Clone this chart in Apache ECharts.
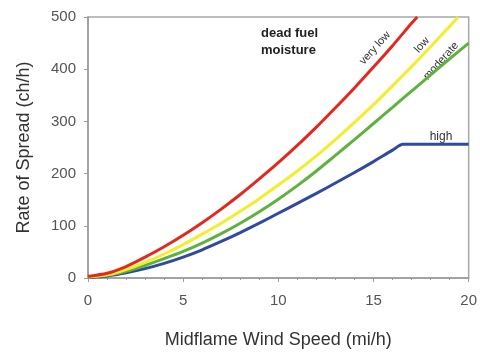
<!DOCTYPE html>
<html><head><meta charset="utf-8">
<script src="https://cdn.jsdelivr.net/npm/echarts@6/dist/echarts.min.js"></script>
<style>html,body{margin:0;padding:0;background:#fff}#c{width:480px;height:354px}</style>
</head><body><div id="c"></div>
<script>
// Data
const xTicks = [0, 5, 10, 15, 20];
const yTicks = [0, 100, 200, 300, 400, 500];

const veryLowX = [0,1,2,3,4,5,6,7,8,9,10,11,12,13,14,15,16,17,17.3];
const veryLowY = [3,9,22,40,60,82,106,132,160,190,221,254,289,326,364,404,445,488,500];

const lowX = [0,1,2,3,4,5,6,7,8,9,10,11,12,13,14,15,16,17,18,19,19.45];
const lowY = [2,6,16,30,46,64,84,105,128,152,178,205,234,265,298,332,368,405,443,482,500];

const moderateX = [0,1,2,3,4,5,6,7,8,9,10,11,12,13,14,15,16,17,18,19,20];
const moderateY = [2,5,13,24,37,51,67,85,105,127,151,177,205,235,265,296,327,358,389,420,450];

const highX = [0,1,2,3,4,5,6,7,8,9,10,11,12,13,14,15,16,16.55,20];
const highY = [1,4,10,18,28,40,54,70,87,105,124,143,162,182,202,223,245,256,256];

const seriesNames = ['very low', 'low', 'moderate', 'high'];
const colors = ['#e4281e', '#f3ee2a', '#5fb23e', '#2f4aa0'];

function pairs(xs, ys) { return xs.map((x, i) => [x, ys[i]]); }

const chart = echarts.init(document.getElementById('c'), null, {renderer: 'canvas'});
const font = 'Liberation Sans, Arial, sans-serif';
const axisGray = '#9a9a9a';

const seriesData = [pairs(veryLowX, veryLowY), pairs(lowX, lowY), pairs(moderateX, moderateY), pairs(highX, highY)];

chart.setOption({
  animation: false,
  grid: {left: 88, right: 10, top: 17, bottom: 71, show: true, borderColor: '#a8a8a8', borderWidth: 1.5, backgroundColor: '#fff'},
  xAxis: {
    type: 'value', min: xTicks[0], max: xTicks[xTicks.length - 1], interval: 5,
    name: 'Midflame Wind Speed (mi/h)', nameLocation: 'middle', nameGap: 53,
    nameTextStyle: {fontFamily: font, fontSize: 18, color: '#333'},
    axisLine: {lineStyle: {color: axisGray, width: 1.5}},
    axisTick: {show: true, length: 4, lineStyle: {color: axisGray}},
    minorTick: {show: true, splitNumber: 5, length: 2, lineStyle: {color: axisGray}},
    splitLine: {show: false},
    axisLabel: {fontFamily: font, fontSize: 15, color: '#555', margin: 15}
  },
  yAxis: {
    type: 'value', min: yTicks[0], max: yTicks[yTicks.length - 1], interval: 100,
    name: 'Rate of Spread (ch/h)', nameLocation: 'middle', nameGap: 55,
    nameTextStyle: {fontFamily: font, fontSize: 18, color: '#333'},
    axisLine: {show: true, lineStyle: {color: axisGray, width: 1.5}},
    axisTick: {show: true, length: 4, lineStyle: {color: axisGray}},
    splitLine: {show: false},
    axisLabel: {fontFamily: font, fontSize: 15, color: '#555', margin: 12}
  },
  series: seriesData.map((d, i) => ({
    name: seriesNames[i], type: 'line', data: d, showSymbol: false,
    smooth: 0.25, clip: true,
    lineStyle: {color: colors[i], width: 3},
    z: 10 - i
  })),
  graphic: [
    {type: 'text', left: 261, top: 25, style: {text: 'dead fuel\nmoisture', font: 'bold 13px ' + font, fill: '#222', lineHeight: 17}},
    {type: 'text', x: 375, y: 48, rotation: 48 * Math.PI / 180, style: {text: 'very low', font: '11px ' + font, fill: '#333', align: 'center', verticalAlign: 'middle'}},
    {type: 'text', x: 422, y: 45, rotation: 48 * Math.PI / 180, style: {text: 'low', font: '11px ' + font, fill: '#333', align: 'center', verticalAlign: 'middle'}},
    {type: 'text', x: 441, y: 61, rotation: 48 * Math.PI / 180, style: {text: 'moderate', font: '11px ' + font, fill: '#333', align: 'center', verticalAlign: 'middle'}},
    {type: 'text', x: 441, y: 137, style: {text: 'high', font: '12px ' + font, fill: '#333', align: 'center', verticalAlign: 'middle'}}
  ]
});
</script></body></html>
